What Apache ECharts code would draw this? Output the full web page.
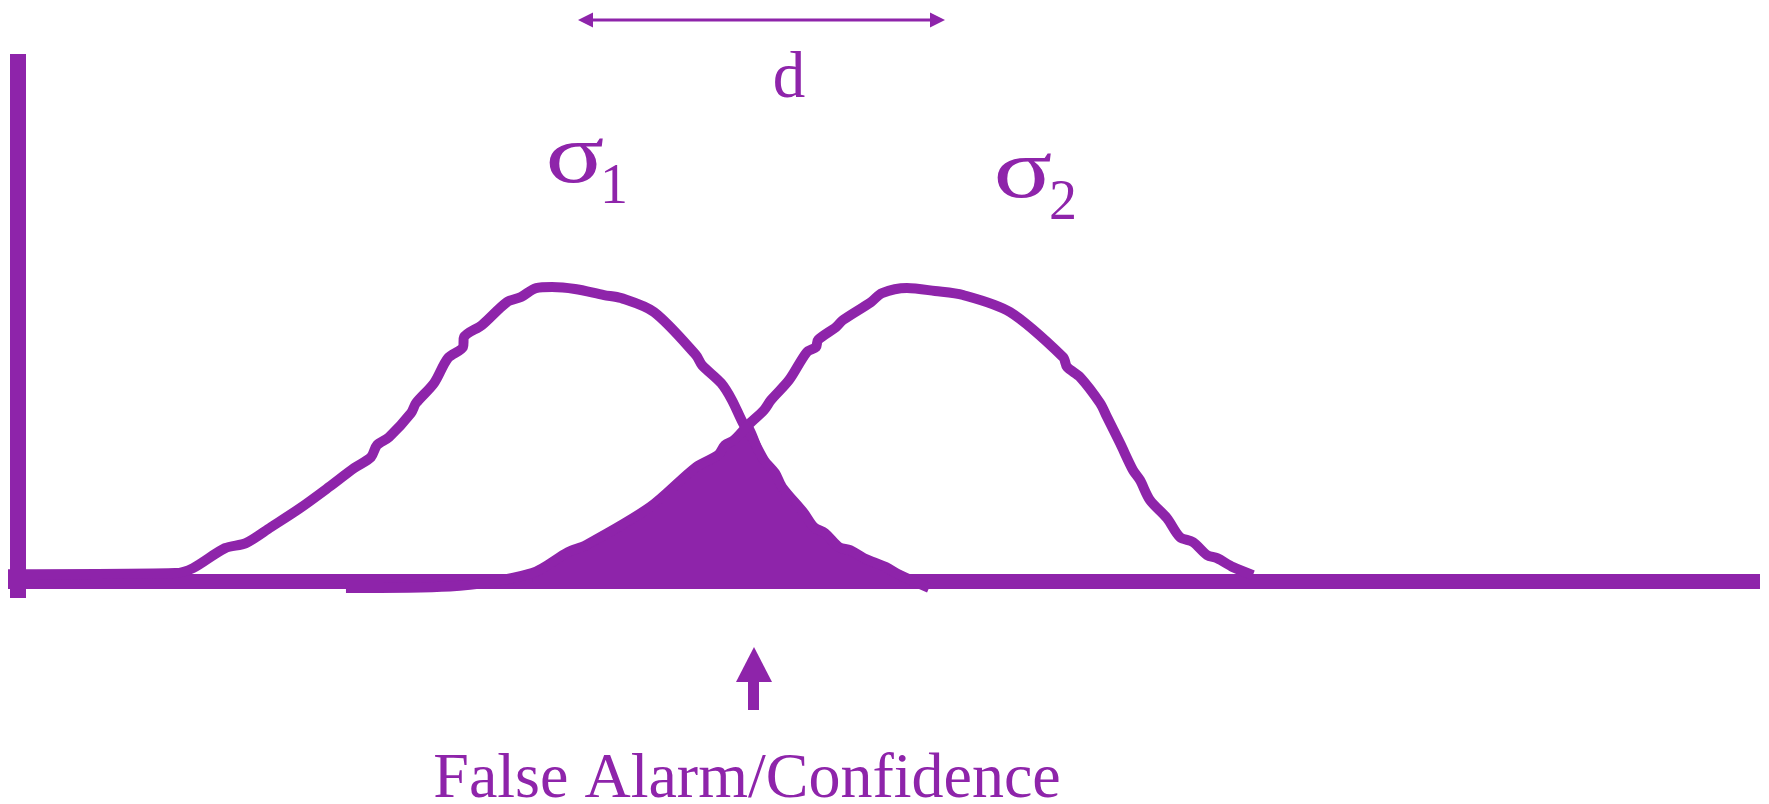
<!DOCTYPE html>
<html lang="en">
<head>
  <meta charset="UTF-8">
  <title>False Alarm / Confidence</title>
  <style>
    html, body { margin: 0; padding: 0; background: #fff; }
    #main { width: 1769px; height: 804px; }
  </style>
</head>
<body>
  <div id="main"></div>
  <script src="https://cdn.jsdelivr.net/npm/echarts@6/dist/echarts.min.js"></script>
  <script>
    // hand drawn curves (x: 0-100 across the axis, y: 0-100 up the axis)
    const curve1X = [0, 9.53, 10.56, 12.39, 13.58, 15.01, 16.67, 18.32, 19.75, 20.72, 21.06, 21.75, 23.0, 23.29,
      24.32, 25.11, 25.97, 26.03, 27.05, 28.48, 29.28, 30.14, 31.05, 32.36, 34.02, 34.99, 36.87, 39.27, 39.61,
      40.7, 41.32, 41.95, 42.24, 43.15, 43.78, 44.18, 45.43, 46.0, 46.63, 47.43, 48.06, 48.86, 50.11, 50.91, 52.57];
    const curve1Y = [1.3, 1.52, 2.47, 6.26, 7.21, 10.25, 13.85, 17.84, 21.44, 23.53, 25.81, 27.32, 31.88, 33.78,
      37.57, 42.31, 44.4, 46.3, 48.58, 52.94, 53.89, 55.6, 55.79, 55.41, 54.27, 53.7, 51.04, 42.88, 40.99,
      37.57, 34.35, 29.98, 28.65, 22.96, 20.49, 17.84, 12.9, 10.25, 9.11, 6.45, 5.88, 4.36, 2.66, 1.14, -1.3];

    const curve2X = [19.29, 25.23, 29.91, 31.96, 32.99, 36.64, 39.27, 40.53, 40.92, 41.44, 42.24, 43.15, 43.55,
      44.58, 45.6, 46.12, 46.23, 47.26, 47.66, 49.26, 49.89, 51.31, 52.91, 54.51, 57.19, 60.22, 60.45, 61.19,
      62.33, 62.73, 63.47, 64.21, 64.61, 65.18, 66.15, 66.89, 67.64, 68.44, 69.01, 69.92, 71.06];
    const curve2Y = [-1.3, -1.0, 1.52, 5.5, 6.83, 14.04, 21.63, 23.91, 25.81, 26.76, 29.6, 32.45, 34.35,
      38.14, 43.45, 44.4, 45.73, 48.2, 49.53, 52.94, 54.65, 55.6, 55.03, 54.27, 51.04, 42.5, 40.61, 38.71,
      33.78, 31.12, 26.19, 21.06, 19.17, 15.37, 11.95, 8.35, 7.4, 4.93, 4.36, 2.66, 1.14];

    // where the two curves cross, the shaded overlap is under both
    const crossX = 42.24;

    const purple = '#8E24AA';

    const pairs = (xs, ys) => xs.map((x, i) => [x, ys[i]]);
    const curve1 = pairs(curve1X, curve1Y);
    const curve2 = pairs(curve2X, curve2Y);
    const overlap = curve2.filter(p => p[1] >= 0 && p[0] <= crossX)
      .concat(curve1.filter(p => p[1] >= 0 && p[0] > crossX));

    const chart = echarts.init(document.getElementById('main'));

    const curveLine = { color: purple, width: 10, cap: 'butt', join: 'round' };
    const serif = '"Liberation Serif", "Times New Roman", serif';

    const option = {
      animation: false,
      backgroundColor: '#fff',
      grid: { left: 8, right: 9, top: 54, bottom: 206 },
      xAxis: {
        type: 'value', min: 0, max: 100,
        axisLine: { show: true, onZero: true, lineStyle: { color: purple, width: 15, cap: 'butt' } },
        axisTick: { show: false }, axisLabel: { show: false }, splitLine: { show: false }
      },
      yAxis: {
        type: 'value', min: -3.2, max: 100, offset: -10,
        axisLine: { show: true, onZero: false, lineStyle: { color: purple, width: 16, cap: 'butt' } },
        axisTick: { show: false }, axisLabel: { show: false }, splitLine: { show: false }
      },
      series: [
        {
          name: 'overlap', type: 'line', data: overlap, showSymbol: false, smooth: 0.2,
          lineStyle: { color: purple, width: 6 },
          areaStyle: { color: purple, opacity: 1 }
        },
        { name: 'sigma1', type: 'line', data: curve1, showSymbol: false, smooth: 0.3, lineStyle: curveLine },
        { name: 'sigma2', type: 'line', data: curve2, showSymbol: false, smooth: 0.3, lineStyle: curveLine }
      ],
      graphic: [
        // d : distance between the means
        { type: 'line', shape: { x1: 590, y1: 20, x2: 933, y2: 20 }, style: { stroke: purple, lineWidth: 3 } },
        { type: 'polygon', shape: { points: [[578, 20], [593, 12.5], [593, 27.5]] }, style: { fill: purple } },
        { type: 'polygon', shape: { points: [[945, 20], [930, 12.5], [930, 27.5]] }, style: { fill: purple } },
        { type: 'text', x: 789, y: 80, style: { text: 'd', font: '65px ' + serif, fill: purple, align: 'center', verticalAlign: 'middle' } },
        // sigma labels
        { type: 'text', x: 575, y: 160, scaleX: 1.3,
          style: { text: 'σ', font: '84px ' + serif, fill: purple, align: 'center', verticalAlign: 'middle' } },
        { type: 'text', x: 614, y: 188, style: { text: '1', font: '56px ' + serif, fill: purple, align: 'center', verticalAlign: 'middle' } },
        { type: 'text', x: 1023, y: 175, scaleX: 1.3,
          style: { text: 'σ', font: '84px ' + serif, fill: purple, align: 'center', verticalAlign: 'middle' } },
        { type: 'text', x: 1063, y: 204, style: { text: '2', font: '56px ' + serif, fill: purple, align: 'center', verticalAlign: 'middle' } },
        // threshold arrow
        { type: 'polygon', shape: { points: [[754, 647], [736, 682], [772, 682]] }, style: { fill: purple } },
        { type: 'rect', shape: { x: 748, y: 681, width: 11, height: 29 }, style: { fill: purple } },
        { type: 'text', x: 747, y: 780, style: { text: 'False Alarm/Confidence', font: '64px ' + serif, fill: purple, align: 'center', verticalAlign: 'middle' } }
      ]
    };

    chart.setOption(option);
  </script>
</body>
</html>
